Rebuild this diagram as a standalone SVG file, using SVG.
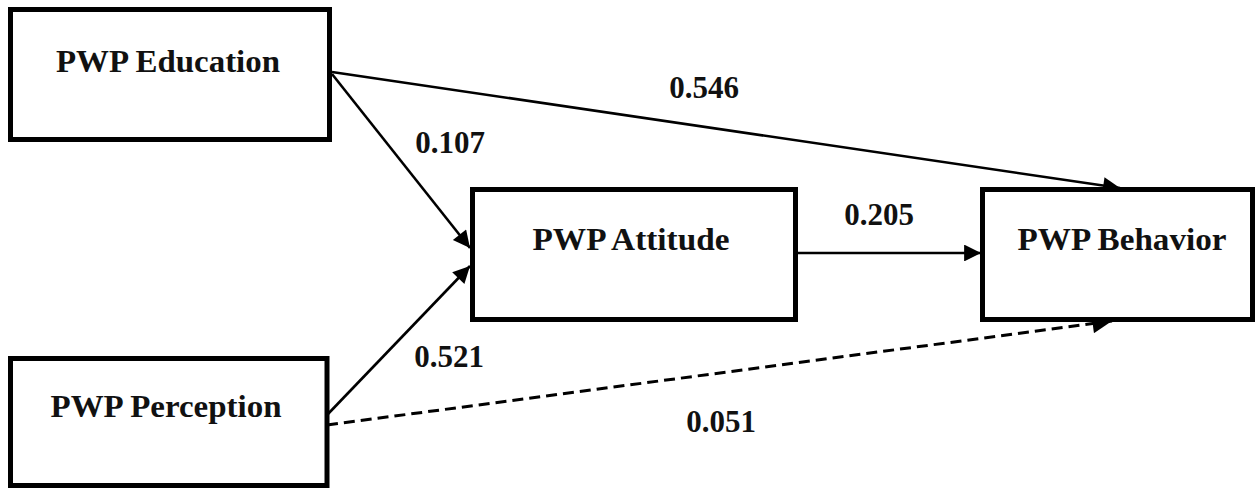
<svg xmlns="http://www.w3.org/2000/svg" width="1257" height="489" viewBox="0 0 1257 489">
<style>
.box{fill:#fff;stroke:#000;stroke-width:5}
.lbl{font-family:"Liberation Serif","Times New Roman","DejaVu Serif",serif;font-weight:bold;font-size:31px;fill:#111;text-anchor:middle}
.edge{stroke:#000;stroke-width:2.6;fill:none}
.dash{stroke-dasharray:11 6;stroke-width:3}
</style>
<defs>
<marker id="ah" viewBox="0 0 10 10" refX="10" refY="5" markerWidth="7.5" markerHeight="6.5" markerUnits="strokeWidth" orient="auto">
<path d="M0,0 L10,5 L0,10 Z" fill="#000"/>
</marker>
</defs>
<rect width="1257" height="489" fill="#fff"/>
<g id="connectors">
<line class="edge" x1="332" y1="72" x2="1120" y2="188" marker-end="url(#ah)"/>
<line class="edge" x1="332" y1="74" x2="470" y2="248" marker-end="url(#ah)"/>
<line class="edge" x1="327" y1="415" x2="470" y2="266" marker-end="url(#ah)"/>
<line class="edge" x1="798" y1="253" x2="981" y2="253" marker-end="url(#ah)"/>
<line class="edge dash" x1="327" y1="425" x2="1112" y2="321" marker-end="url(#ah)"/>
<text class="lbl" x="704" y="98">0.546</text>
<text class="lbl" x="450" y="153">0.107</text>
<text class="lbl" x="879" y="225">0.205</text>
<text class="lbl" x="449" y="367">0.521</text>
<text class="lbl" x="721" y="432">0.051</text>
</g>
<g id="education">
<rect class="box" x="10.5" y="9.5" width="319" height="130"/>
<text class="lbl" x="168" y="72" textLength="224" lengthAdjust="spacingAndGlyphs">PWP Education</text>
</g>
<g id="perception">
<rect class="box" x="10.5" y="358.5" width="316.5" height="127"/>
<text class="lbl" x="166" y="417" textLength="231" lengthAdjust="spacingAndGlyphs">PWP Perception</text>
</g>
<g id="attitude">
<rect class="box" x="472.5" y="189.5" width="323" height="130"/>
<text class="lbl" x="631" y="250" textLength="197" lengthAdjust="spacingAndGlyphs">PWP Attitude</text>
</g>
<g id="behavior">
<rect class="box" x="982.5" y="189.5" width="270" height="130"/>
<text class="lbl" x="1122" y="250" textLength="209" lengthAdjust="spacingAndGlyphs">PWP Behavior</text>
</g>
</svg>
